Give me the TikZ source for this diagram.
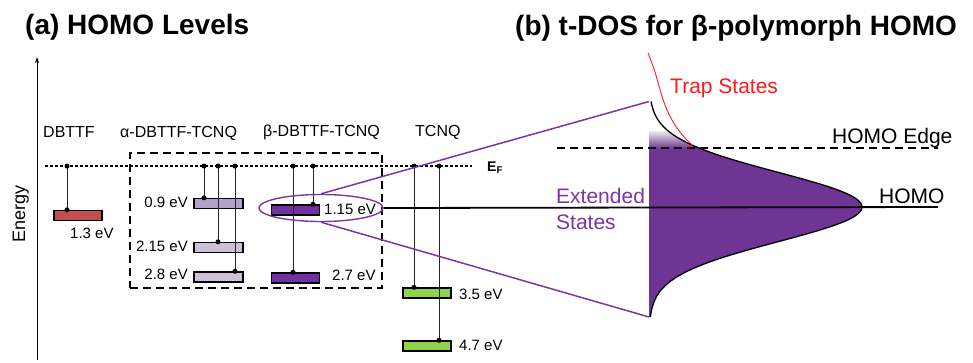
\documentclass[tikz,border=0pt]{standalone}
\usepackage{fontspec}
\setmainfont{Liberation Sans}
\usetikzlibrary{arrows.meta,shapes.geometric}
\definecolor{dbred}{HTML}{C0504D}
\definecolor{alight}{HTML}{B3A2C7}
\definecolor{alighter}{HTML}{CCC1DA}
\definecolor{bpurple}{HTML}{7030A0}
\definecolor{tgreen}{HTML}{92D050}
\definecolor{lpurple}{HTML}{7A36A8}
\definecolor{dosfill}{HTML}{6E3594}
\definecolor{trapred}{HTML}{FF1A1A}
\begin{document}
\begin{tikzpicture}[x=1pt,y=-1pt,
  bar/.style={draw=black, line width=1.4pt, rectangle, minimum width=48pt, minimum height=10pt, inner sep=0pt},
  conn/.style={line width=0.75pt, draw=black!85},
  dot/.style={circle, fill=black, inner sep=0pt, minimum size=5pt},
  lbl/.style={font=\fontsize{15}{18}\selectfont, inner sep=0pt},
  hdr/.style={font=\fontsize{16}{19}\selectfont, inner sep=0pt},
  big/.style={font=\fontsize{21}{25}\selectfont, inner sep=0pt},
  ttl/.style={font=\bfseries\fontsize{28}{32}\selectfont, inner sep=0pt}]
\useasboundingbox (0,0) rectangle (973,362);

% titles
\node[ttl, anchor=base west] (ta) at (25,34) {(a) HOMO Levels};
\node[ttl, anchor=base west] (tb) at (515,35) {(b) t-DOS for β-polymorph HOMO};

% energy axis
\coordinate (axb) at (37,360);
\coordinate (axt) at (37,57);
\draw[line width=0.8pt, -{Stealth[length=6pt,width=4pt]}] (axb) -- (axt);
\node[font=\fontsize{18}{21}\selectfont, inner sep=0pt, rotate=90, anchor=base] (en) at (25,214) {Energy};

% column headers
\node[hdr, anchor=base west] (h1) at (43,137) {DBTTF};
\node[hdr, anchor=base west] (h2) at (120,137) {α-DBTTF-TCNQ};
\node[hdr, anchor=base west] (h3) at (263,136) {β-DBTTF-TCNQ};
\node[hdr, anchor=base west] (h4) at (415,136) {TCNQ};

% Fermi level
\coordinate (efl) at (45,166);
\coordinate (efr) at (472,166);
\draw[line width=1.2pt, dash pattern=on 3pt off 2pt] (efl) -- (efr);
\node[anchor=base west, inner sep=0pt, font=\bfseries\fontsize{14}{16}\selectfont] (ef) at (487,171) {E\textsubscript{F}};

% dashed box
\node[draw, line width=1.9pt, dash pattern=on 8pt off 5pt, rectangle, minimum width=252pt, minimum height=135pt, inner sep=0pt] (box) at (256,220.5) {};

% bars
\node[bar, fill=dbred] (dbttf) at (78,215.5) {};
\node[bar, fill=alight, minimum width=49pt] (a1) at (218.5,203.5) {};
\node[bar, fill=alighter, minimum width=49pt] (a2) at (218.5,247.5) {};
\node[bar, fill=alighter, minimum width=49pt] (a3) at (218.5,277) {};
\node[bar, fill=bpurple] (b1) at (295.5,210) {};
\node[bar, fill=bpurple] (b2) at (295.5,278) {};
\node[bar, fill=tgreen] (t1) at (427,293) {};
\node[bar, fill=tgreen] (t2) at (427,346) {};

% Fermi points
\coordinate (e1) at (67,166);
\coordinate (e2) at (204,166);
\coordinate (e3) at (218,166);
\coordinate (e4) at (235,166);
\coordinate (e5) at (293,166);
\coordinate (e6) at (313,166);
\coordinate (e7) at (414,166);
\coordinate (e8) at (439,166);

\foreach \e/\b in {e1/dbttf, e2/a1, e3/a2, e4/a3, e5/b2, e6/b1, e7/t1, e8/t2}{
  \draw[conn] (\e) -- (\e |- \b.north);
  \node[dot] at (\e) {};
  \node[dot] at (\e |- \b.north) {};
}

% energy labels
\node[lbl, anchor=base west] (l1) at (70,238) {1.3 eV};
\node[lbl, anchor=base east] (l2) at (188,207) {0.9 eV};
\node[lbl, anchor=base east] (l3) at (188,251) {2.15 eV};
\node[lbl, anchor=base east] (l4) at (188,279) {2.8 eV};
\node[lbl, anchor=base west] (l5) at (324,214) {1.15 eV};
\node[lbl, anchor=base west] (l6) at (332,280) {2.7 eV};
\node[lbl, anchor=base west] (l7) at (459,299) {3.5 eV};
\node[lbl, anchor=base west] (l8) at (459,350) {4.7 eV};

% DOS region
\coordinate (dostop) at (649,101.5);
\coordinate (dosbot) at (649,317);
\begin{scope}
  \clip (dostop) -- plot[domain=101.5:317, samples=120] ({649+213*exp(-(\x-207)*(\x-207)/2401)}, \x) -- (dosbot) -- cycle;
  \fill[dosfill] (649,148) rectangle (870,320);
  \shade[top color=black!8, bottom color=dosfill] (649,131) rectangle (870,148.5);
\end{scope}
\draw[line width=1.3pt] plot[domain=101.5:317, samples=120] ({649+213*exp(-(\x-207)*(\x-207)/2401)}, \x);

% zoom ellipse and purple lines
\node[draw=lpurple, line width=1.4pt, ellipse, minimum width=124pt, minimum height=27pt, inner sep=0pt] (ell) at (321,208) {};
\draw[lpurple, line width=1.5pt] (ell.north) -- (dostop);
\draw[lpurple, line width=1.5pt] (ell.south) -- (dosbot);

% HOMO line and HOMO edge
\coordinate (homoend) at (938,207);
\draw[line width=1.8pt] (ell.east) -- (homoend);
\coordinate (edgel) at (557,148);
\coordinate (edger) at (938,148);
\draw[line width=1.8pt, dash pattern=on 8pt off 5pt] (edgel) -- (edger);

% trap line
\draw[trapred, line width=0.9pt] plot[smooth, tension=0.6] coordinates {(648,53) (655,72) (661,93) (667,110) (675,125) (684,137) (690,143) (692,146) (688,147)};

% texts
\node[big, anchor=base west, text=trapred] (trap) at (670,93) {Trap States};
\node[big, anchor=base west] (edge) at (832,143) {HOMO Edge};
\node[big, anchor=base west] (homo) at (879,203) {HOMO};
\node[big, anchor=base west, text=lpurple] (ext) at (556,203) {Extended};
\node[big, anchor=base west, text=lpurple] (ext2) at (556,229) {States};
\end{tikzpicture}
\end{document}
